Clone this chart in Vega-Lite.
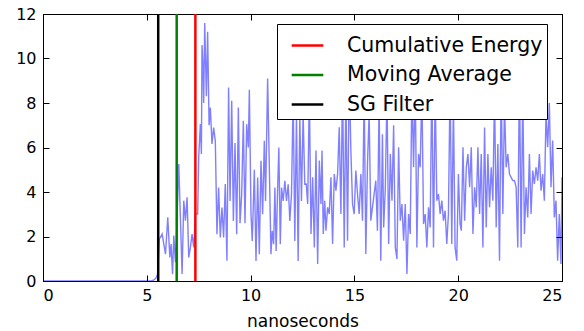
{
  "$schema": "https://vega.github.io/schema/vega-lite/v6.json",
  "width": 519,
  "height": 267,
  "autosize": {"type": "none"},
  "padding": {"left": 43, "top": 14, "right": 22, "bottom": 50},
  "background": "white",
  "config": {
    "font": "DejaVu Sans",
    "view": {"stroke": "black", "strokeWidth": 1},
    "axis": {"grid": false, "domainColor": "black", "tickColor": "black", "labelColor": "black", "titleColor": "black", "labelFont": "DejaVu Sans", "titleFont": "DejaVu Sans", "labelFontSize": 16, "titleFontSize": 17, "titleFontWeight": "normal", "tickSize": -6, "tickWidth": 1}
  },
  "datasets": {
    "signal": [
      {"t": 0, "v": 0}, {"t": 5.2, "v": 0}, {"t": 5.35, "v": 0.05}, {"t": 5.45, "v": 0.15}, {"t": 5.52, "v": 0.3}, {"t": 5.6, "v": 1.9},
      {"t": 5.66, "v": 1.96}, {"t": 5.74, "v": 2.11}, {"t": 5.9, "v": 1.21}, {"t": 6.01, "v": 2.86}, {"t": 6.11, "v": 1.06}, {"t": 6.17, "v": 1.66}, {"t": 6.24, "v": 0.31}, {"t": 6.3, "v": 2.04}, {"t": 6.38, "v": 0.84}, {"t": 6.43, "v": 1.96}, {"t": 6.54, "v": 5.26}, {"t": 6.7, "v": 0.31}, {"t": 6.78, "v": 3.61}, {"t": 6.86, "v": 2.71}, {"t": 6.94, "v": 3.76}, {"t": 7.02, "v": 1.06}, {"t": 7.1, "v": 1.51}, {"t": 7.18, "v": 2.11}, {"t": 7.26, "v": 1.51}, {"t": 7.34, "v": 3.01}, {"t": 7.45, "v": 3.01}, {"t": 7.5, "v": 5.56}, {"t": 7.58, "v": 7.06}, {"t": 7.63, "v": 5.71}, {"t": 7.66, "v": 10.6}, {"t": 7.71, "v": 9.5}, {"t": 7.74, "v": 8.0}, {"t": 7.79, "v": 11.6}, {"t": 7.87, "v": 8.3}, {"t": 7.93, "v": 11.2}, {"t": 8.0, "v": 7.0}, {"t": 8.06, "v": 7.8}, {"t": 8.14, "v": 6.16}, {"t": 8.22, "v": 6.9}, {"t": 8.3, "v": 6.3}, {"t": 8.38, "v": 2.1}, {"t": 8.46, "v": 4.2}, {"t": 8.54, "v": 1.96}, {"t": 8.62, "v": 3.3}, {"t": 8.7, "v": 1.96}, {"t": 8.78, "v": 4.36}, {"t": 8.86, "v": 0.91}, {"t": 8.94, "v": 8.7},
      {"t": 9.01, "v": 3.6}, {"t": 9.09, "v": 8.1}, {"t": 9.17, "v": 2.7}, {"t": 9.25, "v": 6.2}, {"t": 9.33, "v": 2.1}, {"t": 9.41, "v": 7.8}, {"t": 9.49, "v": 2.6}, {"t": 9.57, "v": 3.9}, {"t": 9.65, "v": 7.2}, {"t": 9.73, "v": 2.6}, {"t": 9.81, "v": 7.05}, {"t": 9.89, "v": 6.0}, {"t": 9.94, "v": 8.6}, {"t": 10.02, "v": 3.0}, {"t": 10.08, "v": 1.8}, {"t": 10.18, "v": 5.0}, {"t": 10.26, "v": 0.9}, {"t": 10.34, "v": 4.65}, {"t": 10.42, "v": 1.2}, {"t": 10.5, "v": 5.4}, {"t": 10.58, "v": 3.0}, {"t": 10.66, "v": 6.3}, {"t": 10.72, "v": 3.6}, {"t": 10.82, "v": 9.1}, {"t": 10.9, "v": 5.25}, {"t": 10.98, "v": 1.2}, {"t": 11.04, "v": 2.25}, {"t": 11.11, "v": 1.65}, {"t": 11.17, "v": 4.2}, {"t": 11.23, "v": 1.35}, {"t": 11.3, "v": 4.05}, {"t": 11.36, "v": 6.0}, {"t": 11.43, "v": 1.65}, {"t": 11.49, "v": 4.2}, {"t": 11.57, "v": 3.6}, {"t": 11.65, "v": 4.5}, {"t": 11.73, "v": 3.6}, {"t": 11.81, "v": 4.35}, {"t": 11.89, "v": 2.7}, {"t": 11.97, "v": 3.9}, {"t": 12.05, "v": 8.3}, {"t": 12.13, "v": 1.8}, {"t": 12.21, "v": 7.5}, {"t": 12.29, "v": 0.9}, {"t": 12.37, "v": 7.35}, {"t": 12.45, "v": 3.6}, {"t": 12.53, "v": 7.5}, {"t": 12.61, "v": 4.35},
      {"t": 12.68, "v": 4.36}, {"t": 12.75, "v": 3.46}, {"t": 12.83, "v": 8.5}, {"t": 12.91, "v": 2.11}, {"t": 12.99, "v": 4.66}, {"t": 13.07, "v": 1.51}, {"t": 13.15, "v": 5.86}, {"t": 13.23, "v": 0.76}, {"t": 13.31, "v": 5.41}, {"t": 13.39, "v": 3.46}, {"t": 13.44, "v": 5.86}, {"t": 13.5, "v": 2.11}, {"t": 13.57, "v": 3.61}, {"t": 13.63, "v": 2.26}, {"t": 13.71, "v": 3.31}, {"t": 13.79, "v": 3.01}, {"t": 13.87, "v": 4.66}, {"t": 13.95, "v": 1.66}, {"t": 14.03, "v": 4.81}, {"t": 14.11, "v": 4.06}, {"t": 14.19, "v": 4.81}, {"t": 14.27, "v": 6.91}, {"t": 14.35, "v": 3.01}, {"t": 14.43, "v": 9.0}, {"t": 14.51, "v": 1.51}, {"t": 14.59, "v": 8.5}, {"t": 14.67, "v": 1.81}, {"t": 14.75, "v": 9.5}, {"t": 14.83, "v": 5.86}, {"t": 14.91, "v": 3.46}, {"t": 14.99, "v": 3.01}, {"t": 15.07, "v": 4.96}, {"t": 15.15, "v": 3.91}, {"t": 15.23, "v": 3.01}, {"t": 15.31, "v": 4.81}, {"t": 15.39, "v": 2.71}, {"t": 15.47, "v": 8.5}, {"t": 15.55, "v": 1.21}, {"t": 15.63, "v": 5.26}, {"t": 15.71, "v": 7.5}, {"t": 15.79, "v": 2.71}, {"t": 15.87, "v": 3.31}, {"t": 15.95, "v": 3.91}, {"t": 16.03, "v": 4.51}, {"t": 16.11, "v": 2.26}, {"t": 16.19, "v": 8.0}, {"t": 16.27, "v": 0.91}, {"t": 16.35, "v": 6.6},
      {"t": 16.41, "v": 2.41}, {"t": 16.49, "v": 4.21}, {"t": 16.57, "v": 8.5}, {"t": 16.65, "v": 1.66}, {"t": 16.73, "v": 5.71}, {"t": 16.81, "v": 3.61}, {"t": 16.89, "v": 7.0}, {"t": 16.97, "v": 1.51}, {"t": 17.05, "v": 0.99}, {"t": 17.13, "v": 6.01}, {"t": 17.21, "v": 2.71}, {"t": 17.29, "v": 3.46}, {"t": 17.37, "v": 1.81}, {"t": 17.45, "v": 3.46}, {"t": 17.53, "v": 0.31}, {"t": 17.61, "v": 3.01}, {"t": 17.69, "v": 2.11}, {"t": 17.77, "v": 8.8}, {"t": 17.85, "v": 5.11}, {"t": 17.93, "v": 9.0}, {"t": 18.01, "v": 1.51}, {"t": 18.09, "v": 5.71}, {"t": 18.17, "v": 5.11}, {"t": 18.25, "v": 8.7}, {"t": 18.33, "v": 2.56}, {"t": 18.41, "v": 3.01}, {"t": 18.49, "v": 1.51}, {"t": 18.57, "v": 3.31}, {"t": 18.65, "v": 2.41}, {"t": 18.73, "v": 9.2}, {"t": 18.81, "v": 1.51}, {"t": 18.89, "v": 8.6}, {"t": 18.97, "v": 3.61}, {"t": 19.05, "v": 3.91}, {"t": 19.13, "v": 3.01}, {"t": 19.21, "v": 3.61}, {"t": 19.29, "v": 2.71}, {"t": 19.37, "v": 3.16}, {"t": 19.45, "v": 1.66}, {"t": 19.53, "v": 3.01}, {"t": 19.61, "v": 9.0}, {"t": 19.69, "v": 1.66}, {"t": 19.77, "v": 8.0}, {"t": 19.85, "v": 1.51}, {"t": 19.93, "v": 0.91}, {"t": 20.01, "v": 4.81}, {"t": 20.09, "v": 2.56},
      {"t": 20.15, "v": 2.26}, {"t": 20.23, "v": 6.01}, {"t": 20.31, "v": 2.71}, {"t": 20.39, "v": 5.11}, {"t": 20.47, "v": 5.71}, {"t": 20.55, "v": 4.21}, {"t": 20.63, "v": 6.01}, {"t": 20.71, "v": 2.11}, {"t": 20.79, "v": 4.21}, {"t": 20.87, "v": 3.31}, {"t": 20.95, "v": 6.01}, {"t": 21.03, "v": 3.01}, {"t": 21.11, "v": 5.71}, {"t": 21.19, "v": 1.51}, {"t": 21.27, "v": 6.9}, {"t": 21.35, "v": 2.41}, {"t": 21.43, "v": 5.71}, {"t": 21.51, "v": 3.31}, {"t": 21.59, "v": 5.11}, {"t": 21.67, "v": 3.61}, {"t": 21.75, "v": 8.5}, {"t": 21.83, "v": 2.41}, {"t": 21.91, "v": 6.16}, {"t": 21.99, "v": 0.91}, {"t": 22.07, "v": 9.0}, {"t": 22.15, "v": 3.01}, {"t": 22.23, "v": 8.0}, {"t": 22.31, "v": 5.11}, {"t": 22.39, "v": 5.71}, {"t": 22.47, "v": 4.81}, {"t": 22.55, "v": 4.66}, {"t": 22.63, "v": 4.51}, {"t": 22.71, "v": 4.51}, {"t": 22.79, "v": 4.21}, {"t": 22.87, "v": 1.51}, {"t": 22.95, "v": 9.5}, {"t": 23.03, "v": 1.51}, {"t": 23.11, "v": 8.5}, {"t": 23.19, "v": 2.11}, {"t": 23.27, "v": 4.21}, {"t": 23.35, "v": 2.86}, {"t": 23.43, "v": 5.71}, {"t": 23.51, "v": 3.01}, {"t": 23.59, "v": 4.96}, {"t": 23.67, "v": 4.36}, {"t": 23.75, "v": 5.11}, {"t": 23.83, "v": 4.51}, {"t": 23.91, "v": 5.71}, {"t": 23.99, "v": 4.06}, {"t": 24.07, "v": 4.81}, {"t": 24.15, "v": 3.61}, {"t": 24.23, "v": 7.5}, {"t": 24.31, "v": 6.01}, {"t": 24.39, "v": 8.0}, {"t": 24.47, "v": 4.21}, {"t": 24.55, "v": 6.31}, {"t": 24.63, "v": 2.86}, {"t": 24.71, "v": 3.61}, {"t": 24.79, "v": 0.91}, {"t": 24.87, "v": 3.01}, {"t": 24.95, "v": 0.76}, {"t": 25.0, "v": 4.66}
    ],
    "markers": [
      {"method": "Cumulative Energy", "pos": 7.34},
      {"method": "Moving Average", "pos": 6.44},
      {"method": "SG Filter", "pos": 5.55}
    ]
  },
  "layer": [
    {
      "data": {"name": "signal"},
      "mark": {"type": "line", "color": "#0000ff", "opacity": 0.5, "strokeWidth": 1.4, "clip": true},
      "encoding": {
        "x": {"field": "t", "type": "quantitative", "scale": {"domain": [0, 25], "nice": false, "zero": false}, "axis": {"orient": "bottom", "values": [0, 5, 10, 15, 20, 25], "title": "nanoseconds", "labelPadding": 12, "titlePadding": 10}},
        "y": {"field": "v", "type": "quantitative", "scale": {"domain": [0, 12], "nice": false}, "axis": {"orient": "left", "values": [0, 2, 4, 6, 8, 10, 12], "title": null, "labelPadding": 13}}
      }
    },
    {
      "data": {"name": "markers"},
      "mark": {"type": "rule", "strokeWidth": 2.5},
      "encoding": {
        "x": {"field": "pos", "type": "quantitative", "axis": {"orient": "top", "values": [0, 5, 10, 15, 20, 25], "labels": false, "title": null}},
        "y": {"datum": 0, "type": "quantitative", "axis": {"orient": "right", "values": [0, 2, 4, 6, 8, 10, 12], "labels": false, "title": null}},
        "y2": {"datum": 12},
        "color": {
          "field": "method", "type": "nominal",
          "scale": {"domain": ["Cumulative Energy", "Moving Average", "SG Filter"], "range": ["#ff0000", "#008000", "#000000"]},
          "legend": {
            "title": null, "orient": "none", "legendX": 234, "legendY": 10,
            "symbolType": "stroke", "symbolSize": 1000, "symbolStrokeWidth": 2.5,
            "symbolOffset": 9, "labelOffset": 22, "labelFontSize": 20.5, "labelFont": "DejaVu Sans", "labelColor": "black",
            "padding": 4, "rowPadding": 1.5, "fillColor": "white", "strokeColor": "black", "cornerRadius": 0, "labelLimit": 400
          }
        }
      }
    }
  ],
  "resolve": {"axis": {"x": "independent", "y": "independent"}}
}
